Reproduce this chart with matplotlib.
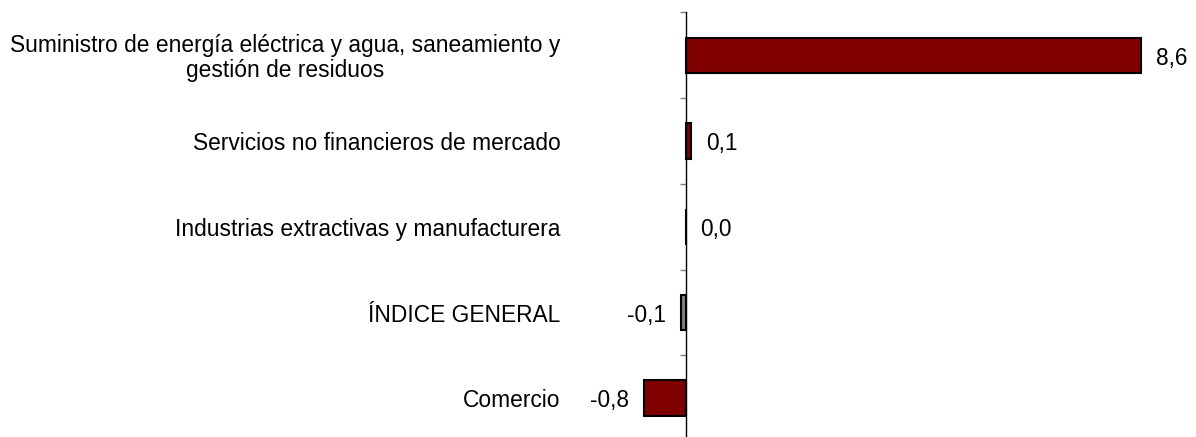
import matplotlib.pyplot as plt
from matplotlib.ticker import FixedLocator

# Datos (de arriba a abajo)
categorias = [
    "Suministro de energía eléctrica y agua, saneamiento y\ngestión de residuos",
    "Servicios no financieros de mercado",
    "Industrias extractivas y manufacturera",
    "ÍNDICE GENERAL",
    "Comercio",
]
valores = [8.6, 0.1, 0.0, -0.1, -0.8]
etiquetas = ["8,6", "0,1", "0,0", "-0,1", "-0,8"]
colores = ["#800000", "#800000", "#800000", "#808080", "#800000"]

plt.rcParams["font.family"] = ["Liberation Sans", "DejaVu Sans"]

W, H = 1196, 437
fig = plt.figure(figsize=(W / 100, H / 100), dpi=100)
# eje en píxeles: izquierda 600, derecha 1160, arriba 12.5, abajo 441 (fuera de la imagen)
ax = fig.add_axes([600 / W, -4 / H, 560 / W, 428.5 / H])

escala = 52.9  # px por unidad
ax.set_xlim(-86 / escala, (1160 - 686) / escala)
ax.set_ylim(4.5, -0.5)

pos = list(range(len(valores)))
ax.barh(pos, valores, height=0.415, color=colores, edgecolor="black", linewidth=1.5)

# etiquetas de valores
for y, v, t in zip(pos, valores, etiquetas):
    if v < 0:
        ax.annotate(t, (v, y), xytext=(-10.5, -2), textcoords="offset points",
                    ha="right", va="center", fontsize=16.3)
    else:
        ax.annotate(t, (v, y), xytext=(10.5, -2), textcoords="offset points",
                    ha="left", va="center", fontsize=16.3)

# etiquetas de categorías
for y, c in zip(pos, categorias):
    ax.annotate(c, (0, y), xytext=(-90.5, -2), textcoords="offset points",
                ha="right", va="center", multialignment="center",
                fontsize=16.4, linespacing=1.1)

ax.set_yticks([])
ax.yaxis.set_minor_locator(FixedLocator([-0.5, 0.5, 1.5, 2.5, 3.5, 4.5]))
ax.tick_params(axis="y", which="minor", length=4.5, color="#808080", width=1)

ax.set_xticks([])
for s in ["top", "right", "bottom"]:
    ax.spines[s].set_visible(False)
ax.spines["left"].set_position(("data", 0))
ax.spines["left"].set_linewidth(1)

fig.savefig("out.png", dpi=100)
